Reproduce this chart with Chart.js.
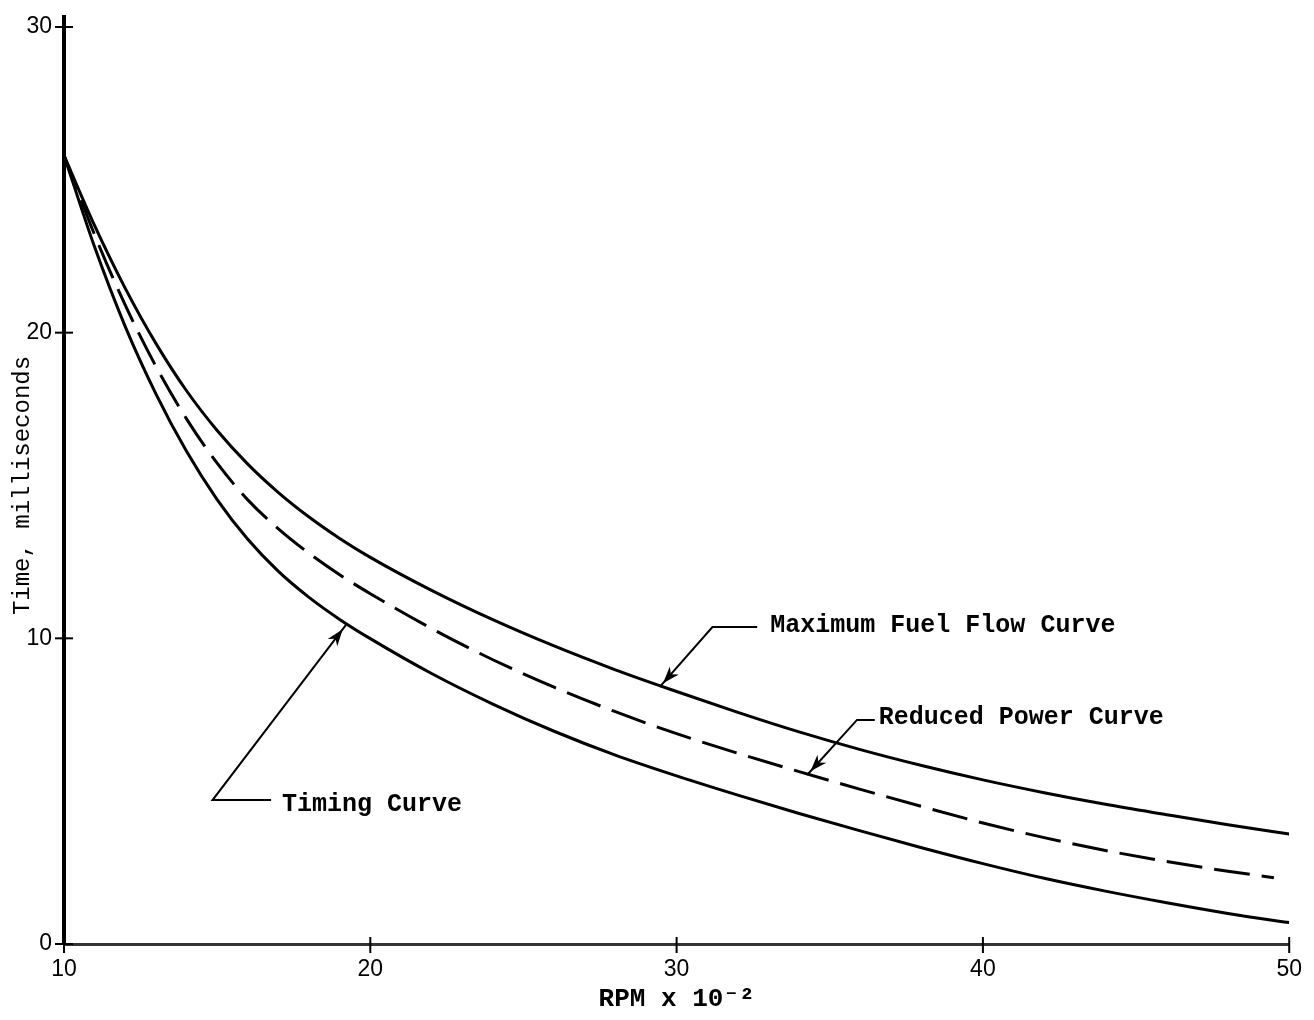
<!DOCTYPE html>
<html>
<head>
<meta charset="utf-8">
<script src="https://cdn.jsdelivr.net/npm/chart.js@4.4.0/dist/chart.umd.min.js"></script>
<style>
    html, body { margin: 0; padding: 0; background: #fff; }
    #wrap { width: 1314px; height: 1020px; }
</style>
</head>
<body>
<div id="wrap"><canvas id="chart" width="1314" height="1020"></canvas></div>
<script>
// Dane (RPM x 10^-2 -> czas w ms)
const rpm = [10, 11, 12, 13, 14, 15, 16, 17, 18, 19, 20, 22, 24, 26, 28, 30, 32, 34, 36, 38, 40, 42, 44, 46, 48, 49.5, 50];
const maxFuelFlow = [25.8, 23.5, 21.45, 19.65, 18.1, 16.8, 15.7, 14.77, 13.97, 13.27, 12.65, 11.57, 10.61, 9.75, 8.97, 8.26, 7.58, 6.94, 6.36, 5.84, 5.37, 4.95, 4.57, 4.23, 3.9, 3.67, 3.6];
const reducedPower = [25.8, 23.2, 20.9, 18.9, 17.18, 15.73, 14.53, 13.58, 12.78, 12.08, 11.46, 10.32, 9.3, 8.4, 7.6, 6.88, 6.24, 5.64, 5.06, 4.5, 3.96, 3.48, 3.06, 2.7, 2.38, 2.17, null];
const timingCurve = [25.8, 22.8, 20.2, 18.0, 16.12, 14.54, 13.24, 12.19, 11.34, 10.62, 9.99, 8.85, 7.85, 6.96, 6.18, 5.5, 4.87, 4.27, 3.7, 3.15, 2.63, 2.15, 1.73, 1.35, 1.0, 0.77, 0.7];

const xTicks = [10, 20, 30, 40, 50];
const yTicks = [0, 10, 20, 30];

// Opisy krzywych ze strzałkami (w jednostkach danych)
const callouts = [
    { text: 'Maximum Fuel Flow Curve', tip: [29.45, 8.41], elbow: [31.17, 10.37], lineEnd: 32.63, textX: 33.06, textY: 10.41 },
    { text: 'Reduced Power Curve', tip: [34.26, 5.53], elbow: [35.89, 7.33], lineEnd: 36.47, textX: 36.6, textY: 7.39 },
    { text: 'Timing Curve', tip: [19.2, 10.43], elbow: [14.85, 4.71], lineEnd: 16.76, textX: 17.12, textY: 4.55 },
];

const MONO = "'Liberation Mono', 'DejaVu Sans Mono', monospace";
const SANS = "'Liberation Sans', 'DejaVu Sans', sans-serif";

function toPoints(ys) {
    const pts = [];
    ys.forEach((y, i) => {
        if (y !== null) pts.push({ x: rpm[i], y: y });
    });
    return pts;
}

/**
 * Znaczniki podziałki przecinające osie + przedłużenie osi Y
 */
const crossTicks = {
    id: 'crossTicks',
    afterDraw(chart) {
        const ctx = chart.ctx;
        const xs = chart.scales.x;
        const ys = chart.scales.y;
        const x0 = xs.getPixelForValue(10);
        const y0 = ys.getPixelForValue(0);
        ctx.save();
        ctx.strokeStyle = '#000';
        ctx.lineWidth = 4;
        ctx.beginPath();
        ctx.moveTo(x0, ys.getPixelForValue(30) - 12);
        ctx.lineTo(x0, y0);
        ctx.stroke();
        ctx.lineWidth = 2;
        yTicks.forEach(v => {
            const py = ys.getPixelForValue(v);
            ctx.beginPath();
            ctx.moveTo(x0 - 9, py);
            ctx.lineTo(x0 + 9, py);
            ctx.stroke();
        });
        xTicks.forEach(v => {
            const px = xs.getPixelForValue(v);
            ctx.beginPath();
            ctx.moveTo(px, y0 - 7);
            ctx.lineTo(px, y0 + 9);
            ctx.stroke();
        });
        ctx.restore();
    }
};

/**
 * Podpisy krzywych z liniami odniesienia i grotami
 */
const calloutPlugin = {
    id: 'callouts',
    afterDatasetsDraw(chart) {
        const ctx = chart.ctx;
        const xs = chart.scales.x;
        const ys = chart.scales.y;
        ctx.save();
        ctx.strokeStyle = '#000';
        ctx.fillStyle = '#000';
        ctx.lineWidth = 2;
        callouts.forEach(c => {
            const tx = xs.getPixelForValue(c.tip[0]);
            const ty = ys.getPixelForValue(c.tip[1]);
            const ex = xs.getPixelForValue(c.elbow[0]);
            const ey = ys.getPixelForValue(c.elbow[1]);
            const lx = xs.getPixelForValue(c.lineEnd);
            ctx.beginPath();
            ctx.moveTo(lx, ey);
            ctx.lineTo(ex, ey);
            ctx.lineTo(tx, ty);
            ctx.stroke();

            // grot
            const ang = Math.atan2(ty - ey, tx - ex);
            const back = 5, len = 17, half = 6;
            const bx = tx - Math.cos(ang) * back;
            const by = ty - Math.sin(ang) * back;
            ctx.beginPath();
            ctx.moveTo(bx, by);
            ctx.lineTo(bx - Math.cos(ang) * len - Math.sin(ang) * half, by - Math.sin(ang) * len + Math.cos(ang) * half);
            ctx.lineTo(bx - Math.cos(ang) * len * 0.7, by - Math.sin(ang) * len * 0.7);
            ctx.lineTo(bx - Math.cos(ang) * len + Math.sin(ang) * half, by - Math.sin(ang) * len - Math.cos(ang) * half);
            ctx.closePath();
            ctx.fill();

            ctx.font = 'bold 25px ' + MONO;
            ctx.textBaseline = 'middle';
            ctx.textAlign = 'left';
            ctx.fillText(c.text, xs.getPixelForValue(c.textX), ys.getPixelForValue(c.textY));
        });
        ctx.restore();
    }
};

const ctx = document.getElementById('chart').getContext('2d');

new Chart(ctx, {
    type: 'line',
    data: {
        datasets: [
            {
                label: 'Maximum Fuel Flow Curve',
                data: toPoints(maxFuelFlow),
                borderColor: '#000',
                borderWidth: 3,
                pointRadius: 0,
                cubicInterpolationMode: 'monotone',
            },
            {
                label: 'Reduced Power Curve',
                data: toPoints(reducedPower),
                borderColor: '#000',
                borderWidth: 3,
                borderDash: [36, 12],
                pointRadius: 0,
                cubicInterpolationMode: 'monotone',
            },
            {
                label: 'Timing Curve',
                data: toPoints(timingCurve),
                borderColor: '#000',
                borderWidth: 3,
                pointRadius: 0,
                cubicInterpolationMode: 'monotone',
            },
        ],
    },
    options: {
        responsive: false,
        animation: false,
        layout: {
            padding: { top: 27, right: 20, left: 0, bottom: 0 },
        },
        plugins: {
            legend: { display: false },
            tooltip: { enabled: false },
        },
        scales: {
            x: {
                type: 'linear',
                min: 10,
                max: 50,
                border: { display: true, color: '#333', width: 3 },
                grid: { drawOnChartArea: false, drawTicks: false },
                afterBuildTicks: (scale) => {
                    scale.ticks = xTicks.map(v => ({ value: v }));
                },
                ticks: {
                    color: '#000',
                    font: { family: SANS, size: 23 },
                    padding: 12,
                    maxRotation: 0,
                },
                title: {
                    display: true,
                    text: 'RPM x 10\u207B\u00B2',
                    color: '#000',
                    font: { family: MONO, size: 26, weight: 'bold' },
                    padding: { top: 0, bottom: 5 },
                },
                afterFit: (scale) => { scale.height = 76; },
            },
            y: {
                min: 0,
                max: 30,
                border: { display: true, color: '#000', width: 4 },
                grid: { drawOnChartArea: false, drawTicks: false },
                afterBuildTicks: (scale) => {
                    scale.ticks = yTicks.map(v => ({ value: v }));
                },
                ticks: {
                    color: '#000',
                    font: { family: SANS, size: 23 },
                    padding: 12,
                },
                title: {
                    display: true,
                    text: 'Time, milliseconds',
                    color: '#000',
                    font: { family: MONO, size: 24 },
                    padding: { top: 8, bottom: 0 },
                },
                afterFit: (scale) => { scale.width = 64; },
            },
        },
    },
    plugins: [crossTicks, calloutPlugin],
});
</script>
</body>
</html>
